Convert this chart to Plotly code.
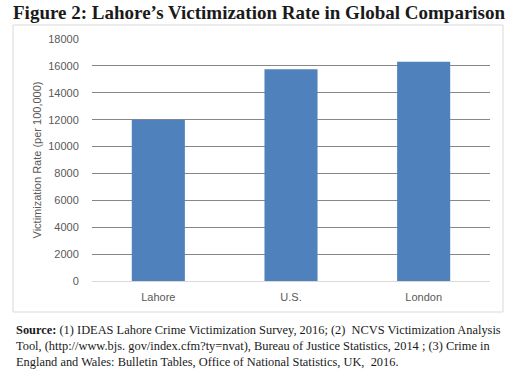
import plotly.graph_objects as go

categories = ["Lahore", "U.S.", "London"]
values = [12000, 15750, 16300]
y_ticks = [0, 2000, 4000, 6000, 8000, 10000, 12000, 14000, 16000, 18000]
y_tick_labels = [str(v) for v in y_ticks]

title_text = "Figure 2: Lahore\u2019s Victimization Rate in Global Comparison"
source_text = ("<b>Source:</b> (1) IDEAS Lahore Crime Victimization Survey, 2016; (2)  NCVS Victimization Analysis<br>"
               "Tool, (http://www.bjs. gov/index.cfm?ty=nvat), Bureau of Justice Statistics, 2014 ; (3) Crime in<br>"
               "England and Wales: Bulletin Tables, Office of National Statistics, UK,  2016.")

fig = go.Figure(go.Bar(x=categories, y=values, marker=dict(color="#4F81BD", line=dict(width=0)), width=0.4))

fig.update_layout(
    width=517, height=372, autosize=False,
    margin=dict(l=92, r=27, t=39, b=91),
    paper_bgcolor="white", plot_bgcolor="white",
    showlegend=False,
    font=dict(family="Liberation Sans, Arial", color="#595959", size=11),
    xaxis=dict(showgrid=False, showline=False, zeroline=False, ticks="outside", ticklen=6,
               tickcolor="rgba(0,0,0,0)", tickfont=dict(size=11, color="#595959")),
    yaxis=dict(range=[0, 18000], tickvals=y_ticks, ticktext=y_tick_labels, showgrid=True,
               gridcolor="#878787", gridwidth=1,
               zeroline=True, zerolinecolor="#d9d9d9", zerolinewidth=1, showline=False,
               ticks="outside", ticklen=10, tickcolor="rgba(0,0,0,0)",
               tickfont=dict(size=11, color="#595959"),
               title=dict(text="Victimization Rate (per 100,000)", font=dict(size=11, color="#595959"), standoff=4)),
    shapes=[dict(type="rect", xref="paper", yref="paper", x0=-79/398, x1=(503-92)/398,
                 y0=-(312-281)/242, y1=(281-25)/242, line=dict(color="#d9d9d9", width=1), layer="below")],
    annotations=[
        dict(text=title_text, xref="paper", yref="paper", x=(259-92)/398, y=(281-13)/242,
             xanchor="center", yanchor="middle", showarrow=False,
             font=dict(family="Liberation Serif", size=19, color="#1a1a1a", weight="bold")),
        dict(text=source_text, xref="paper", yref="paper", x=(14-92)/398, y=(281-321)/242,
             xanchor="left", yanchor="top", align="left", showarrow=False,
             font=dict(family="Liberation Serif", size=12.4, color="#1a1a1a")),
    ],
)

fig.write_html("out.html", config={"displayModeBar": False},
               post_script="document.body.style.margin='0';")
